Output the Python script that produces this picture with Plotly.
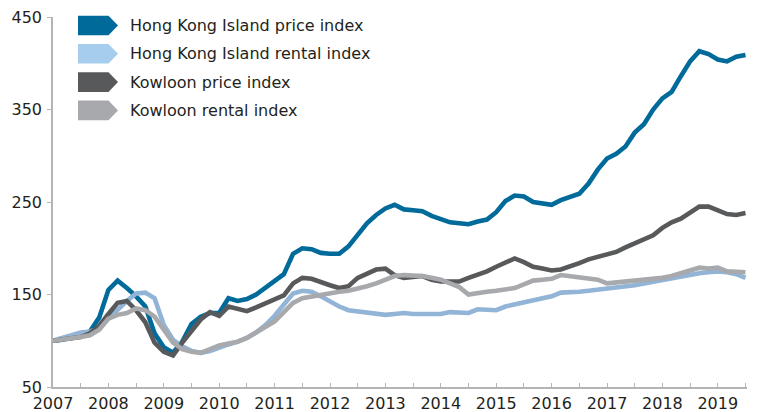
import pandas as pd
import plotly.graph_objects as go

# ---- data (bi-monthly readings, Jan 2007 .. Jul 2019) ----
months = pd.date_range("2007-01-01", "2019-07-01", freq="2MS")

hk_price = [100, 101, 104, 106, 110, 125,
            155, 165, 157, 148, 137, 108,
            93, 87, 99, 118, 126, 130,
            130, 146, 143, 145, 150, 157,
            164, 172, 194, 200, 199, 195,
            194, 194, 202, 215, 227, 236,
            243, 247, 242, 241, 240, 235,
            231, 228, 227, 226, 229, 231,
            239, 251, 257, 256, 250, 249,
            247, 252, 256, 259, 270, 285,
            297, 302, 310, 325, 334, 350,
            362, 369, 386, 402, 413, 410,
            404, 402, 407, 409]

hk_rent = [100, 103, 107, 109, 110, 113,
           124, 134, 143, 151, 152, 146,
           117, 101, 94, 89, 87, 89,
           93, 96, 99, 103, 109, 117,
           127, 139, 151, 154, 153, 148,
           142, 137, 133, 132, 131, 129,
           128, 129, 130, 129, 129, 128,
           129, 131, 130, 130, 134, 133,
           133, 137, 139, 141, 143, 146,
           148, 152, 152, 153, 154, 155,
           157, 158, 159, 160, 162, 164,
           166, 168, 170, 172, 173, 174,
           175, 174, 172, 168]

kl_price = [100, 101, 103, 104, 108, 116,
            129, 141, 143, 133, 120, 98,
            88, 84, 98, 110, 123, 131,
            127, 137, 134, 132, 136, 140,
            144, 149, 162, 168, 167, 163,
            160, 157, 159, 168, 172, 177,
            178, 171, 168, 169, 170, 166,
            164, 164, 164, 168, 171, 175,
            180, 185, 189, 185, 180, 178,
            176, 177, 180, 184, 188, 191,
            193, 196, 201, 205, 210, 214,
            222, 228, 232, 238, 245, 245,
            241, 237, 236, 238]

kl_rent = [100, 101, 103, 104, 106, 112,
           124, 128, 130, 135, 133, 126,
           112, 98, 91, 88, 87, 91,
           95, 97, 99, 103, 109, 115,
           121, 131, 141, 146, 148, 150,
           151, 153, 154, 156, 159, 162,
           166, 170, 171, 171, 170, 168,
           166, 162, 158, 150, 152, 153,
           154, 155, 157, 161, 165, 166,
           167, 171, 170, 168, 167, 166,
           162, 163, 164, 164, 165, 166,
           168, 170, 173, 176, 179, 178,
           179, 175, 174, 174]

series_names = ["Hong Kong Island price index", "Hong Kong Island rental index",
                "Kowloon price index", "Kowloon rental index"]
line_colors = ["#006a9a", "#92b4d6", "#58595b", "#a7a9ac"]
legend_colors = ["#006a9a", "#a6cdee", "#58595b", "#a7a9ac"]

year_ticks = [2007 + i * 0.5 for i in range(26)]
year_labels = [str(int(v)) if float(v).is_integer() else "" for v in year_ticks]
y_ticks = [50, 150, 250, 350, 450]

xs = [d.year + (d.month - 1) / 12 for d in months]

W, H = 757, 412
ML, MR, MT, MB = 53, 10, 17, 25
PW, PH = W - ML - MR, H - MT - MB

FONT = "DejaVu Sans"
TXT = "#231f20"
AX = "#b4b4b4"

fig = go.Figure()
for name, vals, col in zip(series_names, [hk_price, hk_rent, kl_price, kl_rent], line_colors):
    fig.add_trace(go.Scatter(x=xs, y=vals, mode="lines", name=name,
                             line=dict(color=col, width=4.6), showlegend=False,
                             hoverinfo="skip"))

def px2paper(px, py):
    return (px - ML) / PW, (H - MB - py) / PH

shapes = []
annotations = []
for i, (name, col) in enumerate(zip(series_names, legend_colors)):
    cy = 25.5 + i * 28.3
    top, bot = cy - 9.8, cy + 9.8
    pts = [(78, top), (108.5, top), (118, cy), (108.5, bot), (78, bot)]
    pp = [px2paper(a, b) for a, b in pts]
    path = "M " + " L ".join(f"{a:.5f},{b:.5f}" for a, b in pp) + " Z"
    shapes.append(dict(type="path", xref="paper", yref="paper", path=path,
                       fillcolor=col, line=dict(width=0)))
    tx, ty = px2paper(128, cy)
    annotations.append(dict(xref="paper", yref="paper", x=tx, y=ty, text=name,
                            showarrow=False, xanchor="left", yanchor="middle",
                            font=dict(family=FONT, size=16, color=TXT)))

fig.update_layout(
    width=W, height=H,
    margin=dict(l=ML, r=MR, t=MT, b=MB, autoexpand=False),
    plot_bgcolor="white", paper_bgcolor="white",
    shapes=shapes, annotations=annotations,
    xaxis=dict(range=[2007, 2019.527], tickvals=year_ticks, ticktext=year_labels,
               ticks="inside", ticklen=4, tickcolor=AX, tickwidth=1,
               showline=True, linecolor=AX, linewidth=1.5,
               showgrid=False, zeroline=False, automargin=False,
               ticklabelstandoff=1,
               tickfont=dict(family=FONT, size=16, color=TXT)),
    yaxis=dict(range=[50, 450], tickvals=y_ticks, ticktext=[str(v) for v in y_ticks],
               ticks="outside", ticklen=4, tickcolor=AX, tickwidth=1,
               showline=True, linecolor=AX, linewidth=1.5,
               showgrid=False, zeroline=False, automargin=False,
               ticklabelstandoff=2,
               tickfont=dict(family=FONT, size=16, color=TXT)),
)

fig.write_html("out.html",
               config={"displayModeBar": False},
               post_script="document.body.style.margin='0';document.body.style.overflow='hidden';")
